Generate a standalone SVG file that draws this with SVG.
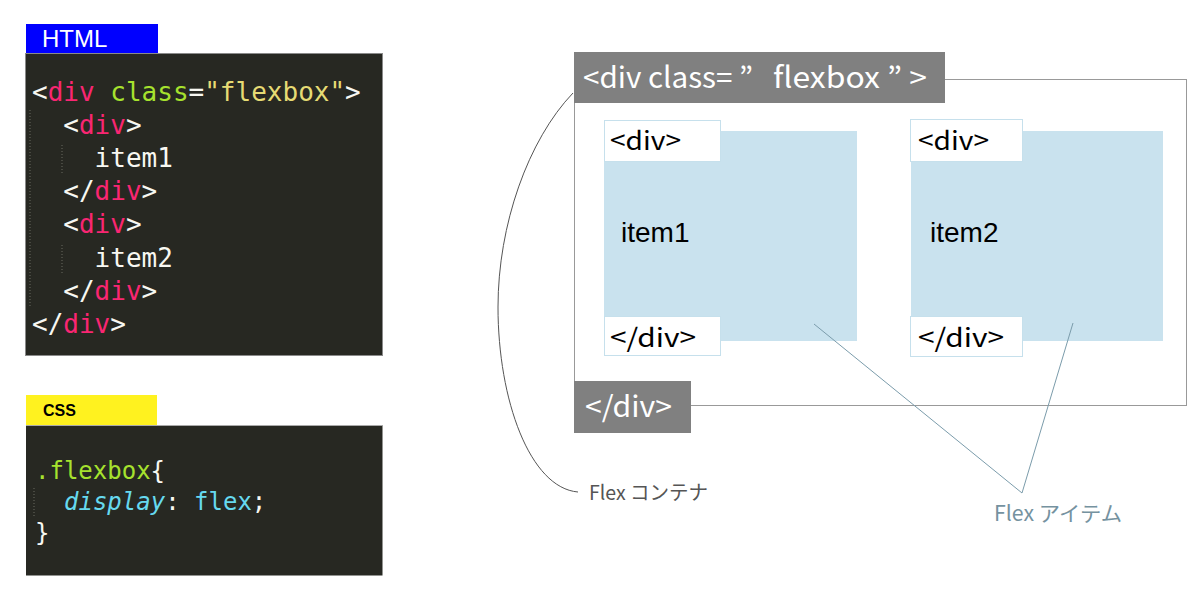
<svg xmlns="http://www.w3.org/2000/svg" width="1200" height="600" viewBox="0 0 1200 600">
<defs>
<style>
.code{font-family:"DejaVu Sans Mono","Liberation Mono",monospace;}
.w{fill:#f8f8f2}.p{fill:#f92672}.g{fill:#a6e22e}.y{fill:#e6db74}.c{fill:#66d9ef}
.panel{fill:#272822;stroke:#8a8a8a;stroke-width:1}
.guide{stroke:#6a6a60;stroke-width:1;stroke-dasharray:1 2}
.jp{font-family:"Noto Sans CJK JP","Noto Sans",sans-serif;}
.tag{fill:#ffffff;stroke:#c6e0ec;stroke-width:1}
.item{fill:#c9e2ee}
.gray{fill:#808080}
.conn{fill:none;stroke:#7b9cab;stroke-width:1}
</style>
</defs>
<rect width="1200" height="600" fill="#ffffff"/>

<g id="html-panel">
<rect x="26" y="24" width="132" height="30" fill="#0000ff"/>
<text x="42" y="47" font-family="Liberation Sans, Arial, sans-serif" font-size="24" fill="#ffffff">HTML</text>
<rect class="panel" x="25.5" y="53.5" width="357" height="302"/>
<line class="guide" x1="30" y1="110" x2="30" y2="307"/>
<line class="guide" x1="62" y1="145" x2="62" y2="174"/>
<line class="guide" x1="62" y1="245" x2="62" y2="275"/>
<g class="code" font-size="26">
<text x="32" y="101" xml:space="preserve"><tspan class="w">&lt;</tspan><tspan class="p">div</tspan><tspan class="w"> </tspan><tspan class="g">class</tspan><tspan class="w">=</tspan><tspan class="y">"flexbox"</tspan><tspan class="w">&gt;</tspan></text>
<text x="63.3" y="134"><tspan class="w">&lt;</tspan><tspan class="p">div</tspan><tspan class="w">&gt;</tspan></text>
<text x="94.6" y="167" class="w">item1</text>
<text x="63.3" y="200"><tspan class="w">&lt;/</tspan><tspan class="p">div</tspan><tspan class="w">&gt;</tspan></text>
<text x="63.3" y="233"><tspan class="w">&lt;</tspan><tspan class="p">div</tspan><tspan class="w">&gt;</tspan></text>
<text x="94.6" y="267" class="w">item2</text>
<text x="63.3" y="300"><tspan class="w">&lt;/</tspan><tspan class="p">div</tspan><tspan class="w">&gt;</tspan></text>
<text x="32" y="333"><tspan class="w">&lt;/</tspan><tspan class="p">div</tspan><tspan class="w">&gt;</tspan></text>
</g>
</g>

<g id="css-panel">
<rect x="26" y="395" width="131" height="30" fill="#fff21f"/>
<text x="43" y="416" font-family="Liberation Sans, Arial, sans-serif" font-size="16" font-weight="bold" fill="#000000">CSS</text>
<rect class="panel" x="26" y="425.5" width="356.5" height="150" style="stroke:none"/>
<line x1="26" y1="425.5" x2="383" y2="425.5" stroke="#aaaaaa" stroke-width="1"/>
<line class="guide" x1="34" y1="488" x2="34" y2="518"/>
<g class="code" font-size="24">
<text x="35" y="479"><tspan class="g">.flexbox</tspan><tspan class="w">{</tspan></text>
<text x="64" y="510" xml:space="preserve"><tspan class="c" font-style="italic">display</tspan><tspan class="w">: </tspan><tspan class="c">flex</tspan><tspan class="w">;</tspan></text>
<text x="35" y="541" class="w">}</text>
</g>
</g>

<g id="flex-container">
<rect x="574.5" y="79.5" width="612" height="326" fill="#ffffff" stroke="#999999" stroke-width="1"/>
<rect class="gray" x="574" y="52" width="371" height="51"/>
<text class="jp" y="88" font-size="29" fill="#ffffff" xml:space="preserve"><tspan x="583" textLength="170" lengthAdjust="spacingAndGlyphs">&lt;div class= ”</tspan><tspan x="773" textLength="154" lengthAdjust="spacingAndGlyphs">flexbox ” &gt;</tspan></text>
<rect class="gray" x="574" y="381" width="117" height="52"/>
<text class="jp" x="585" y="417" font-size="29" fill="#ffffff" textLength="87" lengthAdjust="spacingAndGlyphs">&lt;/div&gt;</text>
</g>

<g id="item1">
<rect class="item" x="604" y="131" width="253" height="210"/>
<rect class="tag" x="604.5" y="120.5" width="116" height="41"/>
<text class="jp" x="610" y="150" font-size="26" fill="#000000" textLength="71" lengthAdjust="spacingAndGlyphs">&lt;div&gt;</text>
<text x="621" y="242" font-family="Liberation Sans, Arial, sans-serif" font-size="28" fill="#000000">item1</text>
<rect class="tag" x="604.5" y="316.5" width="116" height="39"/>
<text class="jp" x="610" y="347" font-size="26" fill="#000000" textLength="86" lengthAdjust="spacingAndGlyphs">&lt;/div&gt;</text>
</g>

<g id="item2">
<rect class="item" x="911" y="131" width="252" height="210"/>
<rect class="tag" x="910.5" y="119.5" width="112" height="42"/>
<text class="jp" x="918" y="150" font-size="26" fill="#000000" textLength="71" lengthAdjust="spacingAndGlyphs">&lt;div&gt;</text>
<text x="930" y="242" font-family="Liberation Sans, Arial, sans-serif" font-size="28" fill="#000000">item2</text>
<rect class="tag" x="910.5" y="316.5" width="112" height="40"/>
<text class="jp" x="918" y="347" font-size="26" fill="#000000" textLength="86" lengthAdjust="spacingAndGlyphs">&lt;/div&gt;</text>
</g>

<g id="connectors">
<path d="M573,93 C528,140 498,225 498,307 C498,400 530,488 578,492" fill="none" stroke="#555555" stroke-width="1"/>
<line class="conn" x1="814" y1="324" x2="1022" y2="493"/>
<line class="conn" x1="1073" y1="323" x2="1022" y2="493"/>
</g>

<g id="label-container">
<text class="jp" x="589" y="500" font-size="20" fill="#555555" textLength="119" lengthAdjust="spacingAndGlyphs">Flex コンテナ</text>
</g>
<g id="label-items">
<text class="jp" x="994" y="521" font-size="21" fill="#7592a0" textLength="128" lengthAdjust="spacingAndGlyphs">Flex アイテム</text>
</g>
</svg>
